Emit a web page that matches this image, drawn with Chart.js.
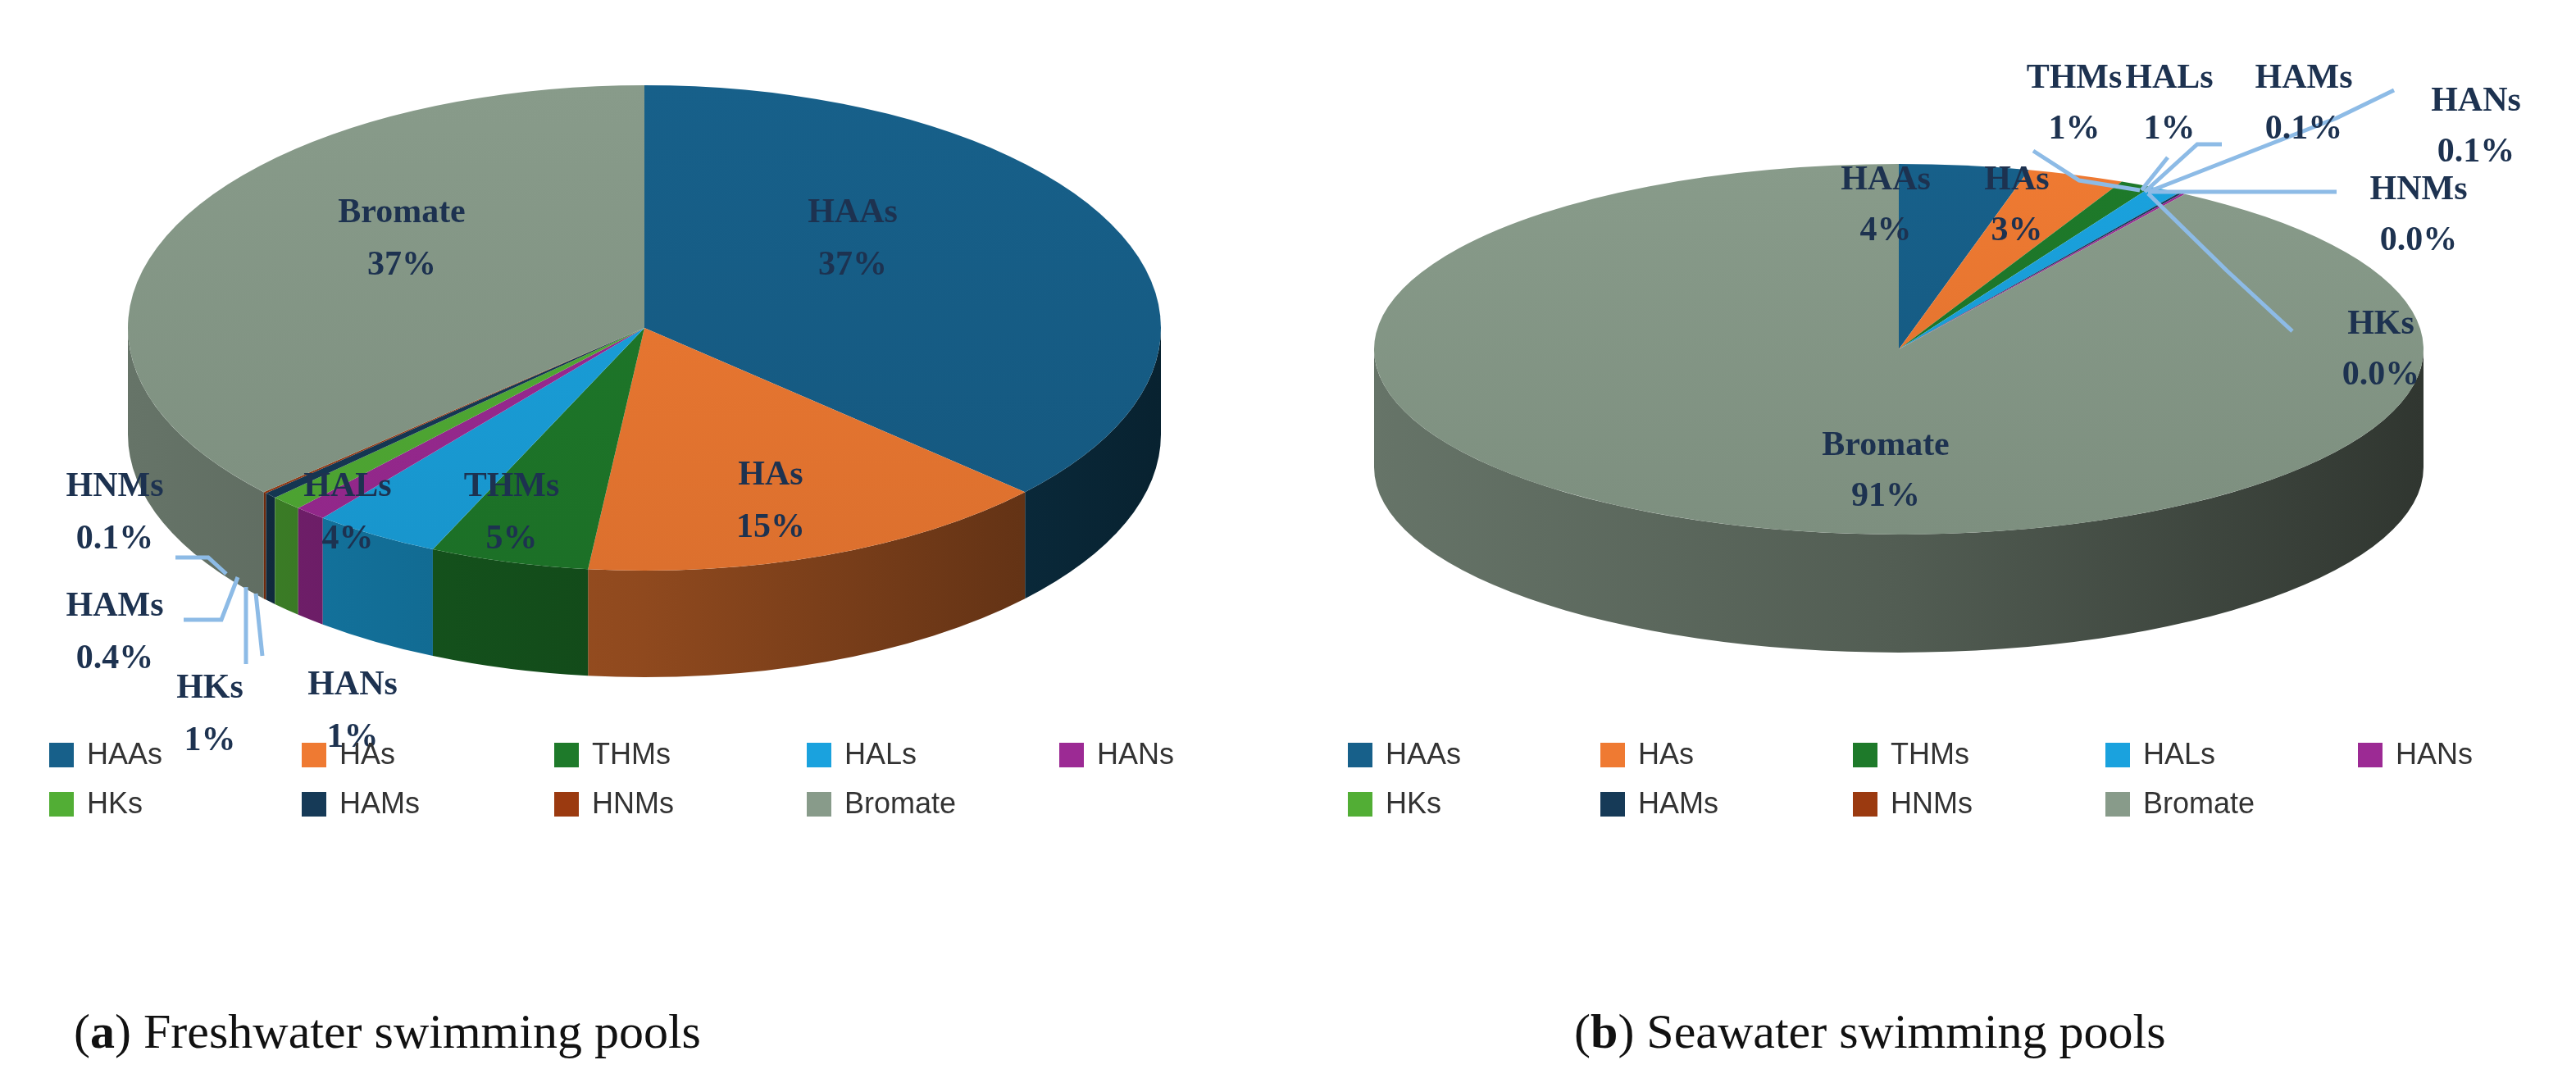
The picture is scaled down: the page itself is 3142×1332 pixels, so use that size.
<!DOCTYPE html>
<html><head><meta charset="utf-8">
<script src="https://cdn.jsdelivr.net/npm/chart.js@4/dist/chart.umd.min.js"></script>
<style>
html,body{margin:0;padding:0;background:#fff;overflow:hidden;width:3142px;height:1332px}
#wrap{position:absolute;left:0;top:0;width:1571px;height:666px;transform:scale(2);transform-origin:0 0}
canvas{position:absolute}
.leg{position:absolute;font-family:"Liberation Sans",Arial,sans-serif;font-size:18px;color:#333;display:flex;align-items:center}
.leg span.sq{display:inline-block;width:15px;height:15px;margin-right:8px}
.cap{position:absolute;font-family:"Liberation Serif",serif;font-size:30px;color:#111;white-space:nowrap}
</style></head><body>
<div id="wrap">
<canvas id="c1"></canvas><canvas id="c2"></canvas>
<div id="legs"></div>
<div class="cap" style="left:45px;top:612px">(<b>a</b>) Freshwater swimming pools</div>
<div class="cap" style="left:960px;top:612px">(<b>b</b>) Seawater swimming pools</div>
</div>
<script>
const categories=['HAAs','HAs','THMs','HALs','HANs','HKs','HAMs','HNMs','Bromate'];
const freshValues=[37,15,5,4,1,1,0.4,0.1,37];
const seaValues=[4,3,1,1,0.1,0.0,0.1,0.0,91];
const colors=['#17608a','#ef7a32','#1e7a2a','#1aa2de','#9c2a94','#52ae35','#163a57','#9b3a10','#889b8a'];
const freshOrder=['HAAs','HAs','THMs','HALs','HANs','HKs','HAMs','HNMs','Bromate'];
const seaOrder=['HAAs','HAs','THMs','HALs','HAMs','HANs','HNMs','HKs','Bromate'];

function fmt(v){return (v<1?v.toFixed(1):v.toFixed(0))+'%';}
function shade(hex,f){const n=parseInt(hex.slice(1),16);const r=(n>>16)&255,g=(n>>8)&255,b=n&255;return `rgb(${Math.round(r*f)},${Math.round(g*f)},${Math.round(b*f)})`;}

const pie3d={id:'pie3d',
 beforeDatasetsDraw(chart){
  const o=chart.options.plugins.pie3d;const ctx=chart.ctx;const arcs=chart.getDatasetMeta(0).data;
  const cx=arcs[0].x,cy=arcs[0].y,r=arcs[0].outerRadius,k=o.k,d=o.depth;
  const cols=chart.data.datasets[0].backgroundColor;
  const walls=[];
  arcs.forEach((a,i)=>{let s=a.startAngle,e=a.endAngle;const A=Math.max(s,0),B=Math.min(e,Math.PI);if(A<B)walls.push({i,A,B});});
  walls.sort((p,q)=>Math.abs((q.A+q.B)/2-Math.PI/2)-Math.abs((p.A+p.B)/2-Math.PI/2));
  walls.forEach(w=>{
   ctx.beginPath();
   ctx.ellipse(cx,cy,r,r*k,0,w.A,w.B);
   ctx.lineTo(cx+r*Math.cos(w.B),cy+r*k*Math.sin(w.B)+d);
   ctx.ellipse(cx,cy+d,r,r*k,0,w.B,w.A,true);
   ctx.closePath();
   const g=ctx.createLinearGradient(cx-r,0,cx+r,0);
   g.addColorStop(0,shade(cols[w.i],0.75));g.addColorStop(0.5,shade(cols[w.i],0.6));g.addColorStop(1,shade(cols[w.i],0.35));
   ctx.fillStyle=g;ctx.fill();
  });
  arcs.forEach((a,i)=>{
   if(a.endAngle-a.startAngle<=0)return;
   ctx.beginPath();ctx.moveTo(cx,cy);ctx.ellipse(cx,cy,r,r*k,0,a.startAngle,a.endAngle);ctx.closePath();
   const g=ctx.createLinearGradient(0,cy-r*k,0,cy+r*k);
   g.addColorStop(0,shade(cols[i],1.08>1?1:1));g.addColorStop(1,shade(cols[i],0.92));
   ctx.fillStyle=g;ctx.fill();
  });
  return false;
 },
 afterDraw(chart){
  const o=chart.options.plugins.pie3d;const ctx=chart.ctx;
  ctx.save();ctx.strokeStyle='#8dbbe6';ctx.lineWidth=2.5;
  o.lines.forEach(l=>{ctx.beginPath();l.forEach((p,j)=>{const x=p[0]-o.left,y=p[1]-o.top;j?ctx.lineTo(x,y):ctx.moveTo(x,y);});ctx.stroke();});
  ctx.font='bold 21px "Liberation Serif", serif';ctx.fillStyle='#1d3250';ctx.textAlign='center';ctx.textBaseline='middle';
  const labs=chart.data.labels,vals=chart.data.datasets[0].data;
  labs.forEach((n,i)=>{const p=o.pos[n];if(!p)return;
   ctx.fillText(n,p[0]-o.left,p[1]-o.top);ctx.fillText(fmt(vals[i]),p[0]-o.left,p[1]+o.gap-o.top);});
  ctx.restore();
 }};

function makeChart(id,order,values,cfg){
 const cv=document.getElementById(id);const size=2*(cfg.rx+100);
 cv.style.left=(cfg.cx-size/2)+'px';cv.style.top=(cfg.cy-size/2)+'px';
 cfg.left=cfg.cx-size/2;cfg.top=cfg.cy-size/2;
 cv.width=size;cv.height=size;cv.style.width=size+'px';cv.style.height=size+'px';
 const vals=order.map(n=>values[categories.indexOf(n)]);
 const cols=order.map(n=>colors[categories.indexOf(n)]);
 new Chart(cv,{type:'pie',plugins:[pie3d],
  data:{labels:order,datasets:[{data:vals,backgroundColor:cols,borderWidth:0}]},
  options:{responsive:false,animation:false,devicePixelRatio:2,layout:{padding:100},events:[],
   plugins:{legend:{display:false},tooltip:{enabled:false},pie3d:cfg}}});
}

makeChart('c1',freshOrder,freshValues,{cx:393,cy:200,rx:315,k:0.47,depth:65,gap:32,
 pos:{HAAs:[520,130],HAs:[470,290],THMs:[312,297],HALs:[212,297],Bromate:[245,130],HNMs:[70,297],HAMs:[70,370],HKs:[128,420],HANs:[215,418]},
 lines:[[[107,340],[127,340],[138,350]],[[112,378],[135,378],[145,352]],[[150,405],[150,358]],[[160,400],[156,362]]]});
makeChart('c2',seaOrder,seaValues,{cx:1158,cy:213,rx:320,k:0.353,depth:72,gap:31,
 pos:{HAAs:[1150,110],HAs:[1230,110],THMs:[1265,48],HALs:[1323,48],HAMs:[1405,48],HANs:[1510,62],HNMs:[1475,116],HKs:[1452,198],Bromate:[1150,272]},
 lines:[[[1240,92],[1268,110],[1305,116]],[[1322,96],[1306,116]],[[1355,88],[1340,88],[1308,117]],[[1460,55],[1425,72],[1310,117]],[[1425,117],[1310,117]],[[1398,202],[1358,165],[1310,118]]]});

const legs=document.getElementById('legs');
function legend(x0,step){categories.forEach((n,i)=>{const d=document.createElement('div');d.className='leg';
 d.style.left=(x0+(i%5)*step)+'px';d.style.top=(450+Math.floor(i/5)*30)+'px';
 d.innerHTML=`<span class="sq" style="background:${colors[i]}"></span>${n}`;legs.appendChild(d);});}
legend(30,154);legend(822,154);
</script></body></html>
